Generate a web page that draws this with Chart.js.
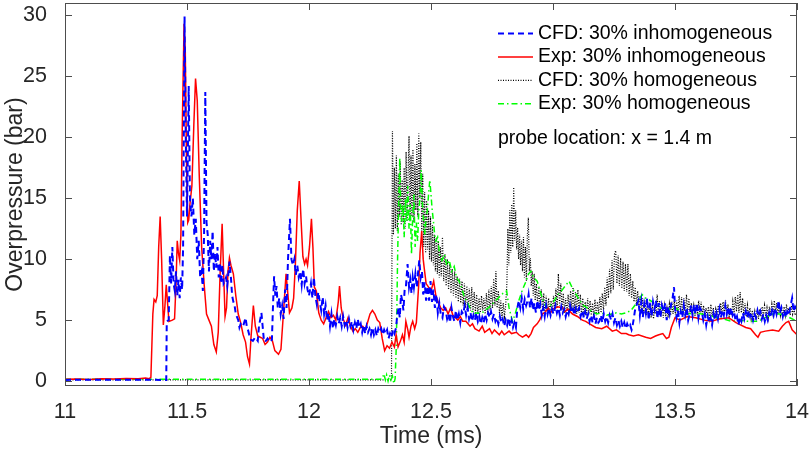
<!DOCTYPE html>
<html><head><meta charset="utf-8">
<script src="https://cdn.jsdelivr.net/npm/chart.js@4"></script>
<style>html,body{margin:0;padding:0;background:#fff}#wrap{width:809px;height:451px}</style>
</head><body><div id="wrap"><canvas id="c" width="809" height="451"></canvas></div>
<script>
// ---- data (time in ms, overpressure in bar) ----
const legendLabels = ['CFD: 30% inhomogeneous','Exp: 30% inhomogeneous','CFD: 30% homogeneous','Exp: 30% homogeneous'];
const noteText = 'probe location: x = 1.4 m';
const xTickValues = [11, 11.5, 12, 12.5, 13, 13.5, 14];
const xTickLabels = ['11','11.5','12','12.5','13','13.5','14'];
const yTickValues = [0, 5, 10, 15, 20, 25, 30];
const yTickLabels = ['0','5','10','15','20','25','30'];

const cfdInhom = [[11.0,0.1],[11.2,0.12],[11.4,0.1],[11.415,0.1],[11.417,4.9],[11.425,5.0],[11.43,10.3],[11.435,8],[11.44,11],[11.445,8],[11.45,7.4],[11.455,9],[11.46,7],[11.465,8.3],[11.47,6.8],[11.475,8.5],[11.48,7.5],[11.484,11],[11.49,29.9],[11.495,20],[11.5,13.5],[11.507,24.2],[11.512,15],[11.518,13.5],[11.524,15],[11.53,12],[11.536,13.3],[11.542,10],[11.548,11.5],[11.554,8.5],[11.56,9],[11.565,7.4],[11.57,12],[11.575,23.7],[11.58,13],[11.585,12],[11.59,9],[11.595,11.5],[11.6,10],[11.605,12.3],[11.61,9],[11.615,10.5],[11.62,9.3],[11.625,11],[11.63,8.5],[11.635,9.7],[11.64,8],[11.645,9.5],[11.65,8],[11.655,8.2],[11.66,8.5],[11.665,7.8],[11.674,9.8],[11.68,8.5],[11.685,7],[11.69,6.5],[11.695,6.2],[11.7,5.5],[11.71,5],[11.715,4.4],[11.72,4.7],[11.73,4.5],[11.74,5.2],[11.745,4.5],[11.75,4.2],[11.755,3.8],[11.762,3.4],[11.77,3.3],[11.78,3.6],[11.79,3.3],[11.795,4.5],[11.805,5.6],[11.81,4.5],[11.815,3.4],[11.82,3.2],[11.83,3.5],[11.84,3.2],[11.848,3.4],[11.853,6.5],[11.857,8.6],[11.862,7],[11.867,7.8],[11.872,6],[11.878,6.8],[11.884,5.5],[11.89,6.2],[11.896,5.1],[11.902,7.5],[11.908,6],[11.914,10],[11.922,13.3],[11.928,10],[11.934,9.5],[11.94,10],[11.946,8.7],[11.952,9.5],[11.958,8.5],[11.964,9],[11.97,7.9],[11.976,9.2],[11.982,8],[11.988,8.6],[11.994,7.5],[12.0,7.0],[12.008,8],[12.014,6.8],[12.02,8.5],[12.026,7],[12.032,6.3],[12.038,7.3],[12.044,6.5],[12.05,5.8],[12.056,6.9],[12.062,5.5],[12.068,6.2],[12.074,5],[12.08,5.6],[12.086,4.5],[12.092,5.5],[12.098,4.3],[12.104,5.1],[12.11,4.6],[12.116,5.3],[12.122,4.7],[12.128,5.2],[12.134,4.5],[12.14,5.3],[12.146,4.6],[12.152,5],[12.158,4.4],[12.164,5.1],[12.17,4.5],[12.176,4.9],[12.182,4.2],[12.188,4.8],[12.194,4.3],[12.2,5.1],[12.206,4.4],[12.212,4.7],[12.218,4.0],[12.224,4.6],[12.23,3.9],[12.236,4.5],[12.242,4.0],[12.248,4.3],[12.254,3.8],[12.26,4.4],[12.266,3.8],[12.272,4.2],[12.278,3.7],[12.284,4.3],[12.29,4.0],[12.296,4.3],[12.302,3.8],[12.308,4.2],[12.314,3.9],[12.32,4.2],[12.326,3.5],[12.332,3.9],[12.338,3.6],[12.344,4.2],[12.35,3.9],[12.357,4.4],[12.362,5.5],[12.367,6.0],[12.372,5.2],[12.377,7.1],[12.382,6.6],[12.387,5.8],[12.392,7.5],[12.397,7.7],[12.404,9.6],[12.41,7.7],[12.415,8.3],[12.42,7.2],[12.425,8.5],[12.43,7.7],[12.436,8.8],[12.442,7.7],[12.447,8.9],[12.452,9.9],[12.458,8.5],[12.463,9.0],[12.468,7.1],[12.474,8.1],[12.48,6.6],[12.486,7.8],[12.492,6.6],[12.498,8.2],[12.504,6.5],[12.51,7.5],[12.516,6.0],[12.522,7.1],[12.528,5.6],[12.534,6.4],[12.54,5.5],[12.547,5.2],[12.553,6.1],[12.56,5.8],[12.566,5.1],[12.572,5.5],[12.578,4.8],[12.584,6.0],[12.59,5.3],[12.596,4.9],[12.602,5.8],[12.608,5.0],[12.614,5.5],[12.62,4.8],[12.626,5.7],[12.632,5.5],[12.638,6.2],[12.644,5.4],[12.65,6.0],[12.656,5.1],[12.662,5.6],[12.668,4.9],[12.674,5.4],[12.68,5.0],[12.686,5.6],[12.692,4.9],[12.698,5.3],[12.704,4.7],[12.71,5.2],[12.716,4.8],[12.722,5.5],[12.728,5.0],[12.734,5.6],[12.74,5.2],[12.746,5.7],[12.752,5.1],[12.758,5.5],[12.764,4.9],[12.77,5.2],[12.776,4.7],[12.782,5.3],[12.788,4.8],[12.794,5.1],[12.8,4.5],[12.806,5.0],[12.812,4.6],[12.818,5.2],[12.824,4.5],[12.83,5.0],[12.836,4.4],[12.842,4.8],[12.848,4.4],[12.854,6.0],[12.86,6.6],[12.866,6.0],[12.872,6.8],[12.878,5.9],[12.884,6.7],[12.89,6.2],[12.896,6.6],[12.9,7.1],[12.906,6.0],[12.912,6.8],[12.918,5.8],[12.924,6.4],[12.93,5.6],[12.936,6.6],[12.942,5.8],[12.948,6.3],[12.954,5.4],[12.96,6.0],[12.966,5.3],[12.972,6.2],[12.978,5.5],[12.984,6.0],[12.99,5.4],[12.996,5.9],[13.002,5.5],[13.01,6.2],[13.016,5.6],[13.022,6.0],[13.028,5.4],[13.034,6.1],[13.04,5.6],[13.046,5.9],[13.052,5.3],[13.058,5.8],[13.064,5.5],[13.07,6.2],[13.076,5.6],[13.082,5.9],[13.088,5.4],[13.094,6.0],[13.1,5.7],[13.107,6.0],[13.113,5.3],[13.12,5.8],[13.126,5.2],[13.132,5.7],[13.138,5.1],[13.144,5.5],[13.15,4.9],[13.156,5.4],[13.162,4.8],[13.168,5.3],[13.174,4.7],[13.18,5.2],[13.186,4.8],[13.19,4.9],[13.196,5.4],[13.202,4.8],[13.208,5.5],[13.214,4.9],[13.22,5.3],[13.226,4.8],[13.232,5.4],[13.238,5.0],[13.244,5.5],[13.25,4.8],[13.256,5.2],[13.262,4.6],[13.268,5.0],[13.274,4.5],[13.28,4.9],[13.286,4.4],[13.292,4.8],[13.298,4.3],[13.304,4.7],[13.31,4.4],[13.316,4.6],[13.322,4.2],[13.325,4.4],[13.33,5.0],[13.336,5.8],[13.342,6.2],[13.35,6.6],[13.356,5.4],[13.362,6.5],[13.368,5.2],[13.374,6.3],[13.38,5.6],[13.386,6.8],[13.392,5.0],[13.398,6.4],[13.404,5.3],[13.41,6.5],[13.416,5.9],[13.422,6.6],[13.428,5.1],[13.434,6.4],[13.44,5.2],[13.446,6.2],[13.452,5.7],[13.46,6.4],[13.466,5.0],[13.472,6.1],[13.478,5.5],[13.484,6.3],[13.49,6.8],[13.496,7.7],[13.5,6.0],[13.506,5.2],[13.512,5.8],[13.518,4.8],[13.524,5.7],[13.53,5.2],[13.536,6.2],[13.542,5.4],[13.548,6.0],[13.554,5.0],[13.56,5.5],[13.566,6.2],[13.572,5.4],[13.578,6.3],[13.584,5.5],[13.59,6.4],[13.596,5.2],[13.602,6.0],[13.61,5.7],[13.616,5.0],[13.622,5.5],[13.628,4.6],[13.634,5.3],[13.64,4.8],[13.646,5.2],[13.652,4.6],[13.658,5.5],[13.664,5.0],[13.67,5.6],[13.676,5.1],[13.682,5.9],[13.688,5.2],[13.694,5.8],[13.7,5.4],[13.706,6.2],[13.712,5.5],[13.718,6.1],[13.724,5.3],[13.73,6.0],[13.736,5.4],[13.742,5.7],[13.748,5.0],[13.754,5.3],[13.76,4.6],[13.766,5.2],[13.772,4.9],[13.778,5.6],[13.784,5.1],[13.79,5.7],[13.796,5.2],[13.802,5.8],[13.808,5.3],[13.814,5.6],[13.82,5.0],[13.826,5.5],[13.832,5.2],[13.838,5.8],[13.844,5.3],[13.85,5.7],[13.856,5.1],[13.862,5.5],[13.868,4.9],[13.874,5.4],[13.88,5.0],[13.886,5.6],[13.892,5.2],[13.898,5.8],[13.904,5.4],[13.91,6.0],[13.916,5.5],[13.925,6.6],[13.93,5.6],[13.936,6.0],[13.942,5.3],[13.948,5.8],[13.954,5.2],[13.96,5.7],[13.966,5.4],[13.972,6.0],[13.98,6.8],[13.986,5.7],[13.992,6.1],[14.0,5.8]];

const expInhom = [[11.00,0.15],[11.05,0.18],[11.10,0.14],[11.15,0.20],[11.20,0.18],[11.25,0.22],[11.30,0.20],[11.33,0.26],[11.345,0.20],[11.352,0.30],[11.360,5.5],[11.365,6.7],[11.372,6.5],[11.378,7.0],[11.384,11.0],[11.390,13.5],[11.396,10.0],[11.403,4.6],[11.409,6.0],[11.415,7.9],[11.420,6.5],[11.426,4.9],[11.440,5.0],[11.449,5.1],[11.455,8.0],[11.460,11.5],[11.465,10.5],[11.470,9.9],[11.475,12.0],[11.480,20.0],[11.488,29.3],[11.493,27.0],[11.498,18.0],[11.503,13.0],[11.507,13.2],[11.512,14.5],[11.520,16.0],[11.528,21.0],[11.535,24.8],[11.542,23.0],[11.550,17.0],[11.560,11.0],[11.570,8.0],[11.580,5.5],[11.590,5.0],[11.600,4.5],[11.610,3.0],[11.620,2.4],[11.628,4.0],[11.636,9.0],[11.644,12.9],[11.650,9.0],[11.656,5.3],[11.662,6.0],[11.668,9.0],[11.674,10.1],[11.680,9.5],[11.690,8.8],[11.700,7.0],[11.710,5.5],[11.720,4.8],[11.730,3.8],[11.740,3.2],[11.748,2.0],[11.756,1.4],[11.762,3.5],[11.772,6.2],[11.780,4.5],[11.790,3.7],[11.800,3.6],[11.810,3.5],[11.820,3.0],[11.830,3.2],[11.840,3.6],[11.850,3.3],[11.860,2.5],[11.875,2.2],[11.885,2.6],[11.895,5.5],[11.906,8.8],[11.914,7.0],[11.920,5.6],[11.930,6.0],[11.937,6.8],[11.944,9.5],[11.952,14.0],[11.960,16.4],[11.968,13.0],[11.975,10.2],[11.982,9.6],[11.988,10.0],[11.994,9.5],[12.002,11.0],[12.010,13.3],[12.016,11.0],[12.022,7.7],[12.030,7.4],[12.040,5.6],[12.050,5.0],[12.060,4.7],[12.070,5.2],[12.080,5.7],[12.090,5.2],[12.100,5.4],[12.110,5.0],[12.120,6.5],[12.125,7.8],[12.132,6.0],[12.140,5.1],[12.150,4.6],[12.160,5.2],[12.170,4.5],[12.180,4.1],[12.190,4.3],[12.200,4.0],[12.210,4.4],[12.220,4.5],[12.230,4.2],[12.240,4.8],[12.250,5.5],[12.260,5.8],[12.270,5.5],[12.280,5.0],[12.290,4.8],[12.300,3.5],[12.310,2.5],[12.320,2.9],[12.330,2.7],[12.340,3.2],[12.350,2.8],[12.357,3.8],[12.365,2.8],[12.375,3.3],[12.383,3.8],[12.390,3.2],[12.397,4.9],[12.405,4.2],[12.410,3.6],[12.418,4.5],[12.425,4.9],[12.433,4.3],[12.440,4.8],[12.449,7.7],[12.455,10.5],[12.462,12.3],[12.468,10.0],[12.472,9.3],[12.480,8.0],[12.490,7.7],[12.500,7.4],[12.511,8.2],[12.520,7.0],[12.527,6.6],[12.540,6.0],[12.550,5.8],[12.560,6.0],[12.570,5.5],[12.580,6.0],[12.590,5.4],[12.600,5.2],[12.610,5.0],[12.620,5.3],[12.630,4.9],[12.643,4.9],[12.660,4.5],[12.670,4.7],[12.680,4.3],[12.697,4.1],[12.710,4.5],[12.720,4.0],[12.740,4.3],[12.750,3.9],[12.760,4.2],[12.780,3.8],[12.790,4.1],[12.800,3.8],[12.820,4.1],[12.830,3.9],[12.850,4.0],[12.860,3.8],[12.875,3.6],[12.890,3.8],[12.900,3.6],[12.910,3.9],[12.920,4.4],[12.935,4.7],[12.945,5.0],[12.957,5.5],[12.970,5.7],[12.980,6.0],[12.990,5.6],[13.000,5.9],[13.020,6.1],[13.040,6.0],[13.050,5.7],[13.060,5.9],[13.080,5.5],[13.100,5.3],[13.120,5.0],[13.134,4.9],[13.150,4.7],[13.175,4.4],[13.200,4.3],[13.220,4.5],[13.243,4.1],[13.260,4.2],[13.280,3.9],[13.300,3.9],[13.310,3.8],[13.330,3.7],[13.350,3.8],[13.380,3.6],[13.400,3.5],[13.420,3.7],[13.434,3.8],[13.450,3.9],[13.465,3.5],[13.475,3.6],[13.485,4.4],[13.500,5.2],[13.520,5.0],[13.550,5.3],[13.585,5.2],[13.620,5.0],[13.650,4.9],[13.680,5.1],[13.720,5.2],[13.750,4.8],[13.790,4.4],[13.810,4.3],[13.830,3.8],[13.840,3.6],[13.850,4.0],[13.870,4.1],[13.900,4.2],[13.925,4.1],[13.940,4.5],[13.955,4.8],[13.966,4.9],[13.980,4.2],[14.000,3.8]];

const cfdHom = [[11.0,0.1],[11.5,0.1],[12.0,0.1],[12.3,0.1],[12.338,0.1],[12.342,20.5],[12.346,12.0],[12.350,17.5],[12.354,12.5],[12.358,18.5],[12.362,12.3],[12.366,17.0],[12.370,13.5],[12.374,18.0],[12.378,12.8],[12.382,16.5],[12.386,13.0],[12.390,17.5],[12.394,12.5],[12.398,18.8],[12.402,13.1],[12.406,17.0],[12.410,20.1],[12.414,13.1],[12.418,18.5],[12.422,13.5],[12.426,19.0],[12.430,13.0],[12.434,17.8],[12.438,14.0],[12.442,19.5],[12.446,13.5],[12.450,20.3],[12.454,15.0],[12.458,19.6],[12.462,12.3],[12.466,17.0],[12.470,11.0],[12.474,15.5],[12.478,10.5],[12.482,14.8],[12.486,10.8],[12.490,14.0],[12.494,10.0],[12.498,13.5],[12.502,9.8],[12.506,12.8],[12.510,9.5],[12.514,12.0],[12.518,9.0],[12.522,11.8],[12.526,8.8],[12.530,11.5],[12.534,8.5],[12.538,11.0],[12.542,8.6],[12.547,11.8],[12.552,8.2],[12.557,10.4],[12.562,7.8],[12.567,10.0],[12.572,7.5],[12.577,9.6],[12.582,7.2],[12.587,9.2],[12.592,7.0],[12.597,9.0],[12.602,6.8],[12.607,8.6],[12.612,6.5],[12.617,8.4],[12.622,6.4],[12.627,8.2],[12.632,6.2],[12.637,8.0],[12.642,6.0],[12.647,7.8],[12.652,5.9],[12.657,7.6],[12.662,5.8],[12.667,7.7],[12.672,5.7],[12.677,7.3],[12.682,5.6],[12.687,7.1],[12.692,5.5],[12.697,6.8],[12.702,5.6],[12.707,7.0],[12.712,5.8],[12.717,6.8],[12.722,5.5],[12.727,7.2],[12.732,5.6],[12.737,7.5],[12.742,5.8],[12.747,7.8],[12.752,6.0],[12.757,8.4],[12.762,6.2],[12.766,9.0],[12.771,6.0],[12.776,7.4],[12.781,5.4],[12.786,6.6],[12.791,5.2],[12.796,6.4],[12.801,5.3],[12.806,6.2],[12.811,8.0],[12.815,12.5],[12.819,9.5],[12.823,14.0],[12.827,10.5],[12.831,14.5],[12.835,11.0],[12.839,15.9],[12.843,11.5],[12.847,14.0],[12.851,10.8],[12.855,12.6],[12.859,10.0],[12.863,12.0],[12.867,9.5],[12.871,11.5],[12.875,9.0],[12.879,11.8],[12.883,8.5],[12.887,11.0],[12.891,8.2],[12.895,12.0],[12.899,13.4],[12.903,9.0],[12.907,10.1],[12.911,7.8],[12.915,9.0],[12.919,7.0],[12.923,8.8],[12.927,6.6],[12.932,8.0],[12.937,6.2],[12.942,7.7],[12.947,6.0],[12.952,7.5],[12.957,5.8],[12.962,7.2],[12.967,5.6],[12.972,7.0],[12.977,5.5],[12.982,6.8],[12.987,5.5],[12.992,6.6],[12.997,5.6],[13.002,7.0],[13.007,5.8],[13.012,7.6],[13.017,6.0],[13.022,8.8],[13.027,6.2],[13.032,8.0],[13.037,5.8],[13.042,7.2],[13.047,5.6],[13.052,6.8],[13.057,5.5],[13.062,7.1],[13.067,5.6],[13.072,7.4],[13.077,5.8],[13.082,7.7],[13.087,5.7],[13.092,7.3],[13.097,5.5],[13.102,7.5],[13.107,5.6],[13.112,7.1],[13.117,5.4],[13.122,6.8],[13.127,5.3],[13.132,6.5],[13.137,5.4],[13.142,6.8],[13.147,5.5],[13.152,6.6],[13.157,5.4],[13.162,6.4],[13.167,5.3],[13.172,6.7],[13.177,5.4],[13.182,6.5],[13.187,5.5],[13.192,6.9],[13.197,5.6],[13.202,7.2],[13.207,5.8],[13.212,7.7],[13.217,6.2],[13.222,8.5],[13.227,6.8],[13.232,9.2],[13.237,7.2],[13.242,9.9],[13.247,7.5],[13.252,10.4],[13.257,10.7],[13.262,8.0],[13.267,10.3],[13.272,7.8],[13.277,10.1],[13.282,7.6],[13.287,9.8],[13.292,7.4],[13.297,9.6],[13.302,7.3],[13.307,9.6],[13.312,7.0],[13.317,8.8],[13.322,6.8],[13.327,8.2],[13.332,6.5],[13.337,7.7],[13.342,6.2],[13.347,7.4],[13.352,5.9],[13.357,7.0],[13.362,5.6],[13.367,6.8],[13.372,5.5],[13.377,6.6],[13.382,5.4],[13.387,6.4],[13.392,5.3],[13.397,6.5],[13.402,5.2],[13.407,6.3],[13.412,5.1],[13.417,6.1],[13.422,5.5],[13.427,7.1],[13.432,5.4],[13.437,6.6],[13.442,5.3],[13.447,6.4],[13.452,5.2],[13.457,6.2],[13.462,5.3],[13.467,6.0],[13.472,5.2],[13.477,6.3],[13.482,5.4],[13.487,6.5],[13.492,5.5],[13.497,6.6],[13.502,5.4],[13.507,6.6],[13.512,5.6],[13.517,7.0],[13.522,5.5],[13.527,6.9],[13.532,5.4],[13.537,6.8],[13.542,5.5],[13.547,7.1],[13.552,5.6],[13.557,6.8],[13.562,5.5],[13.567,6.4],[13.572,5.4],[13.577,6.2],[13.582,5.3],[13.587,6.3],[13.592,5.4],[13.597,6.6],[13.602,5.5],[13.607,6.5],[13.612,5.4],[13.617,6.2],[13.622,5.3],[13.627,6.0],[13.632,5.3],[13.637,6.1],[13.642,5.2],[13.647,6.3],[13.652,5.3],[13.657,6.0],[13.662,5.2],[13.667,5.9],[13.672,5.3],[13.677,6.2],[13.682,5.4],[13.687,6.4],[13.692,5.5],[13.697,6.5],[13.702,5.5],[13.707,6.6],[13.712,5.4],[13.717,6.3],[13.722,5.3],[13.727,6.0],[13.732,5.4],[13.737,6.5],[13.742,5.6],[13.747,6.9],[13.752,5.7],[13.757,7.1],[13.762,5.6],[13.767,7.3],[13.772,5.6],[13.777,6.8],[13.782,5.4],[13.787,6.4],[13.792,5.3],[13.797,6.2],[13.802,5.2],[13.807,6.0],[13.812,5.1],[13.817,5.8],[13.822,5.0],[13.827,5.7],[13.832,5.0],[13.837,5.8],[13.842,5.1],[13.847,5.9],[13.852,5.3],[13.857,6.1],[13.862,5.4],[13.867,6.2],[13.872,5.3],[13.877,6.0],[13.882,5.2],[13.887,6.1],[13.892,5.4],[13.897,6.3],[13.902,5.5],[13.907,6.6],[13.912,5.6],[13.917,6.4],[13.922,5.5],[13.927,6.2],[13.932,5.4],[13.937,6.0],[13.942,5.3],[13.947,6.1],[13.952,5.4],[13.957,6.3],[13.962,5.5],[13.967,6.0],[13.972,5.4],[13.977,6.2],[13.982,5.5],[13.987,6.0],[13.992,5.4],[14.0,5.6]];

const expHom = [[11.0,0.15],[11.5,0.15],[12.0,0.15],[12.29,0.15],[12.30,0.2],[12.307,0.6],[12.313,0.1],[12.318,0.5],[12.324,0.0],[12.33,0.5],[12.336,0.1],[12.342,0.4],[12.348,-0.2],[12.353,0.2],[12.358,3],[12.363,10],[12.368,15],[12.372,18.3],[12.376,14],[12.38,13.1],[12.385,14.5],[12.39,11.8],[12.395,15],[12.4,13.1],[12.405,16],[12.41,12.5],[12.415,14.5],[12.42,10.4],[12.425,13.5],[12.43,15.3],[12.435,11],[12.44,13],[12.445,11.5],[12.45,14],[12.455,15],[12.46,17.3],[12.465,14.5],[12.47,13.1],[12.475,12],[12.48,13.5],[12.485,14],[12.49,15.3],[12.495,16.5],[12.5,15.3],[12.505,14],[12.51,13.1],[12.515,12],[12.52,11.5],[12.527,11.8],[12.535,10.4],[12.545,9.9],[12.555,10.4],[12.565,9.5],[12.575,9.9],[12.585,9.0],[12.595,9.4],[12.605,8.5],[12.615,8.2],[12.625,7.7],[12.635,7.0],[12.645,6.6],[12.66,6.0],[12.675,5.5],[12.69,5.6],[12.705,5.5],[12.72,5.8],[12.735,6.0],[12.75,6.3],[12.765,6.6],[12.78,6.9],[12.795,7.2],[12.81,7.4],[12.82,6.0],[12.834,4.9],[12.845,5.5],[12.86,6.6],[12.875,7.5],[12.89,8.2],[12.9,8.8],[12.91,9.0],[12.92,8.5],[12.935,8.2],[12.95,7.2],[12.96,6.6],[12.975,6.0],[12.99,6.2],[13.005,6.6],[13.02,7.1],[13.035,7.4],[13.05,7.8],[13.066,8.2],[13.08,7.6],[13.095,7.1],[13.11,6.6],[13.125,6.2],[13.14,6.0],[13.16,5.7],[13.18,5.5],[13.2,5.6],[13.22,5.4],[13.24,5.5],[13.26,5.6],[13.28,5.5],[13.3,5.6],[13.32,5.8],[13.335,6.2],[13.35,6.6],[13.365,7.1],[13.38,6.8],[13.4,6.6],[13.42,6.3],[13.44,6.0],[13.46,6.0],[13.48,5.9],[13.5,6.0],[13.52,5.8],[13.55,5.5],[13.58,5.6],[13.61,5.5],[13.64,5.4],[13.67,5.2],[13.7,5.1],[13.73,4.9],[13.76,5.0],[13.8,4.9],[13.84,4.9],[13.87,5.2],[13.9,5.5],[13.93,5.5],[13.96,5.3],[14.0,4.9]];

// ---- styling / layout ----
const FONT = '"Liberation Sans", Arial, Helvetica, sans-serif';
const TEXT_COLOR = '#262626';
const AXIS_COLOR = '#4d4d4d';
const TICK_LEN = 7;
const toXY = arr => arr.map(p => ({x: p[0], y: p[1]}));

const styles = [
  {color:'#0000ff', width:2, dash:[6,4]},
  {color:'#ff0000', width:1.5, dash:[]},
  {color:'#000000', width:1.2, dash:[1,1.5]},
  {color:'#00ff00', width:1.5, dash:[6,3,1.5,3]}
];
const seriesData = [cfdInhom, expInhom, cfdHom, expHom];
// lower order = drawn on top: blue top, then red, green, black at the bottom
const drawOrder = [0, 1, 3, 2];

const framePlugin = {
  id: 'frame',
  afterDatasetsDraw(chart) {
    const {ctx, chartArea: a, scales: {x, y}} = chart;
    ctx.save();
    ctx.strokeStyle = AXIS_COLOR;
    ctx.lineWidth = 1;
    ctx.setLineDash([]);
    ctx.strokeRect(a.left + 0.5, a.top + 0.5, a.right - a.left - 1, a.bottom - a.top - 1);
    ctx.beginPath();
    xTickValues.forEach(v => {
      const px = Math.round(x.getPixelForValue(v)) + 0.5;
      ctx.moveTo(px, a.bottom); ctx.lineTo(px, a.bottom - TICK_LEN);
      ctx.moveTo(px, a.top); ctx.lineTo(px, a.top + TICK_LEN);
    });
    yTickValues.forEach(v => {
      const py = Math.round(y.getPixelForValue(v)) + 0.5;
      ctx.moveTo(a.left, py); ctx.lineTo(a.left + TICK_LEN, py);
      ctx.moveTo(a.right, py); ctx.lineTo(a.right - TICK_LEN, py);
    });
    ctx.stroke();

    // legend (inside, top-right)
    const lx0 = a.right - 299, lx1 = a.right - 264, tx = a.right - 259;
    ctx.font = '19.5px ' + FONT;
    ctx.textBaseline = 'middle';
    ctx.textAlign = 'left';
    legendLabels.forEach((lab, i) => {
      const yy = a.top + 30.5 + i * 23.4;
      const s = styles[i];
      ctx.beginPath();
      ctx.strokeStyle = s.color;
      ctx.lineWidth = s.width;
      ctx.setLineDash(s.dash);
      ctx.moveTo(lx0, yy); ctx.lineTo(lx1, yy);
      ctx.stroke();
      ctx.fillStyle = '#000';
      ctx.fillText(lab, tx, yy);
    });
    ctx.setLineDash([]);
    ctx.fillText(noteText, lx0, a.top + 136);
    ctx.restore();
  }
};

new Chart(document.getElementById('c').getContext('2d'), {
  type: 'line',
  data: {
    datasets: seriesData.map((d, i) => ({
      label: legendLabels[i],
      data: toXY(d),
      borderColor: styles[i].color,
      borderWidth: styles[i].width,
      borderDash: styles[i].dash,
      pointRadius: 0,
      fill: false,
      tension: 0,
      order: drawOrder[i]
    }))
  },
  options: {
    responsive: false,
    animation: false,
    devicePixelRatio: 1,
    layout: {padding: {left: 0, right: 12, top: 3, bottom: 0}},
    plugins: {legend: {display: false}, tooltip: {enabled: false}},
    scales: {
      x: {
        type: 'linear', min: 11, max: 14,
        afterBuildTicks: s => { s.ticks = xTickValues.map(v => ({value: v})); },
        afterFit: s => { s.height = 65; s.paddingLeft = 0; s.paddingRight = 0; s.paddingTop = 0; s.paddingBottom = 0; },
        ticks: {callback: (v, i) => xTickLabels[i], font: {family: FONT, size: 21.5}, color: TEXT_COLOR, padding: 5, maxRotation: 0, autoSkip: false},
        grid: {display: false},
        border: {display: false},
        title: {display: true, text: 'Time (ms)', font: {family: FONT, size: 23}, color: TEXT_COLOR, padding: {top: 0, bottom: 1}}
      },
      y: {
        type: 'linear', min: -0.4, max: 31,
        afterBuildTicks: s => { s.ticks = yTickValues.map(v => ({value: v})); },
        afterFit: s => { s.width = 65; s.paddingLeft = 0; s.paddingRight = 0; s.paddingTop = 0; s.paddingBottom = 0; },
        ticks: {callback: (v, i) => yTickLabels[i], font: {family: FONT, size: 21.5}, color: TEXT_COLOR, padding: 10, autoSkip: false},
        grid: {display: false},
        border: {display: false},
        title: {display: true, text: 'Overpressure (bar)', font: {family: FONT, size: 23}, color: TEXT_COLOR, padding: {top: 2, bottom: 0}}
      }
    }
  },
  plugins: [framePlugin]
});
</script>
</body></html>
